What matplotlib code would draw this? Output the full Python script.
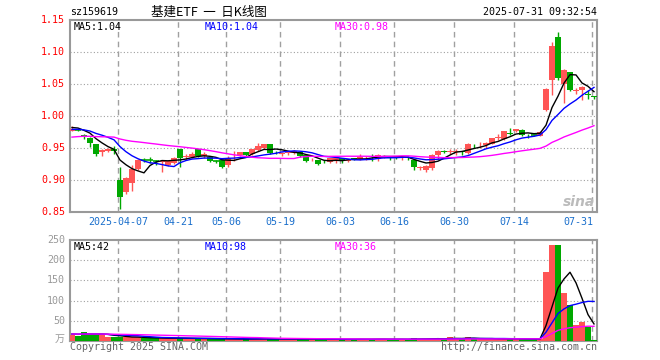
import matplotlib
matplotlib.use("Agg")
import matplotlib.pyplot as plt
import numpy as np

# ---- data (159619) ----
dates = [
    "03-25", "03-26", "03-27", "03-28", "03-31",
    "04-01", "04-02", "04-03", "04-07", "04-08", "04-09", "04-10", "04-11",
    "04-14", "04-15", "04-16", "04-17", "04-18", "04-21", "04-22", "04-23",
    "04-24", "04-25", "04-28", "04-29", "04-30",
    "05-06", "05-07", "05-08", "05-09", "05-12", "05-13", "05-14", "05-15",
    "05-16", "05-19", "05-20", "05-21", "05-22", "05-23", "05-26", "05-27",
    "05-28", "05-29", "05-30",
    "06-03", "06-04", "06-05", "06-06", "06-09", "06-10", "06-11", "06-12",
    "06-13", "06-16", "06-17", "06-18", "06-19", "06-20", "06-23", "06-24",
    "06-25", "06-26", "06-27", "06-30",
    "07-01", "07-02", "07-03", "07-04", "07-07", "07-08", "07-09", "07-10",
    "07-11", "07-14", "07-15", "07-16", "07-17", "07-18", "07-21", "07-22",
    "07-23", "07-24", "07-25", "07-28", "07-29", "07-30", "07-31",
]

opens = [
    0.977, 0.978, 0.971, 0.966, 0.956,
    0.943, 0.946, 0.948, 0.900, 0.882, 0.896, 0.917, 0.931,
    0.931, 0.930, 0.928, 0.924, 0.927, 0.948, 0.936, 0.936,
    0.948, 0.937, 0.936, 0.929, 0.932,
    0.923, 0.937, 0.939, 0.943, 0.940, 0.947, 0.950, 0.956,
    0.944, 0.940, 0.942, 0.942, 0.943, 0.939, 0.931, 0.931,
    0.930, 0.928, 0.929,
    0.934, 0.929, 0.934, 0.933, 0.934, 0.937, 0.933, 0.935,
    0.936, 0.936, 0.934, 0.936, 0.931, 0.918, 0.915, 0.918,
    0.939, 0.946, 0.944, 0.944,
    0.945, 0.942, 0.957, 0.954, 0.954, 0.957, 0.966, 0.964,
    0.973, 0.976, 0.978, 0.971, 0.970, 0.969, 1.009, 1.056,
    1.124, 1.050, 1.068, 1.039, 1.040, 1.034, 1.031,
]
closes = [
    0.980, 0.978, 0.967, 0.958, 0.940,
    0.947, 0.949, 0.946, 0.874, 0.903, 0.917, 0.931, 0.931,
    0.931, 0.930, 0.929, 0.929, 0.935, 0.934, 0.937, 0.940,
    0.938, 0.940, 0.930, 0.929, 0.921,
    0.935, 0.938, 0.943, 0.939, 0.948, 0.953, 0.956, 0.942,
    0.943, 0.942, 0.943, 0.946, 0.938, 0.930, 0.932, 0.925,
    0.929, 0.934, 0.934,
    0.929, 0.932, 0.933, 0.936, 0.935, 0.936, 0.939, 0.938,
    0.935, 0.935, 0.935, 0.935, 0.921, 0.920, 0.922, 0.939,
    0.945, 0.944, 0.945, 0.945,
    0.944, 0.956, 0.956, 0.955, 0.958, 0.965, 0.967, 0.976,
    0.972, 0.979, 0.971, 0.970, 0.970, 0.975, 1.042, 1.109,
    1.059, 1.072, 1.041, 1.040, 1.046, 1.033, 1.030,
]
highs = [
    0.984, 0.980, 0.972, 0.967, 0.957,
    0.949, 0.950, 0.953, 0.921, 0.905, 0.924, 0.933, 0.934,
    0.936, 0.932, 0.931, 0.931, 0.936, 0.949, 0.940, 0.943,
    0.949, 0.943, 0.937, 0.932, 0.933,
    0.937, 0.946, 0.944, 0.944, 0.949, 0.958, 0.957, 0.957,
    0.946, 0.944, 0.946, 0.947, 0.944, 0.940, 0.934, 0.932,
    0.931, 0.935, 0.935,
    0.935, 0.933, 0.935, 0.941, 0.937, 0.940, 0.941, 0.939,
    0.937, 0.937, 0.936, 0.937, 0.933, 0.922, 0.923, 0.940,
    0.947, 0.947, 0.949, 0.948,
    0.946, 0.958, 0.957, 0.960, 0.960, 0.966, 0.972, 0.977,
    0.982, 0.980, 0.979, 0.972, 0.971, 0.976, 1.043, 1.115,
    1.132, 1.073, 1.069, 1.043, 1.047, 1.041, 1.031,
]
lows = [
    0.976, 0.976, 0.964, 0.952, 0.937,
    0.937, 0.944, 0.940, 0.855, 0.878, 0.883, 0.916, 0.928,
    0.926, 0.924, 0.913, 0.922, 0.925, 0.921, 0.932, 0.934,
    0.936, 0.934, 0.928, 0.926, 0.919,
    0.921, 0.930, 0.937, 0.937, 0.939, 0.946, 0.949, 0.941,
    0.940, 0.938, 0.939, 0.941, 0.936, 0.928, 0.929, 0.923,
    0.926, 0.926, 0.927,
    0.927, 0.928, 0.931, 0.932, 0.932, 0.930, 0.929, 0.934,
    0.931, 0.933, 0.932, 0.932, 0.916, 0.916, 0.913, 0.916,
    0.933, 0.942, 0.940, 0.939,
    0.939, 0.941, 0.950, 0.950, 0.950, 0.956, 0.963, 0.963,
    0.970, 0.975, 0.968, 0.966, 0.968, 0.968, 1.008, 1.033,
    1.057, 1.021, 1.039, 1.034, 1.025, 1.026, 1.027,
]
volumes = [  # 万手
    15, 13, 22, 17, 17,
    16, 10, 11, 11, 9, 9, 9, 7,
    7, 7, 7, 7, 7, 7, 6, 6,
    6, 6, 6, 5, 5,
    5, 5, 5, 5, 5, 6, 6, 5,
    5, 5, 5, 5, 5, 5, 5, 4,
    4, 4, 4,
    4, 4, 4, 5, 4, 4, 5, 4,
    4, 4, 4, 4, 7, 5, 5, 6,
    6, 5, 9, 6,
    5, 9, 6, 5, 5, 5, 6, 5,
    6, 5, 5, 5, 5, 5, 171, 237,
    237, 118, 88, 40, 46, 35, 2,
]

# sessions before the window, only used to seed the moving averages
pre_closes = [
    0.955, 0.952, 0.958, 0.954, 0.956, 0.953, 0.957,
    0.962, 0.965, 0.963, 0.960, 0.964, 0.966, 0.962, 0.965, 0.963, 0.964, 0.961,
    0.970, 0.971,
    0.975, 0.977, 0.976, 0.977, 0.975,
    0.982, 0.985, 0.980, 0.983,
]
pre_volumes = [
    18, 17, 19, 16, 18, 17, 18, 17, 16, 18,
    17, 18, 17, 19, 16, 18, 17, 17, 18, 16,
    17, 18, 17, 16, 18, 17, 19, 17, 18,
]

price_ticks = [1.15, 1.10, 1.05, 1.00, 0.95, 0.90, 0.85]
vol_ticks = [250, 200, 150, 100, 50]
xlabel_dates = ["04-07", "04-21", "05-06", "05-19", "06-03", "06-16",
                "06-30", "07-14", "07-31"]

RED = "#ff5555"
GREEN = "#00a800"
GRID = "#a0a0a0"
W, H = 660, 360
FS = 7.2


def moving_avg(hist, vals, n):
    full = np.array(list(hist) + list(vals), dtype=float)
    k = len(hist)
    return np.array([full[k + i - n + 1:k + i + 1].mean() for i in range(len(vals))])


def fx(px):
    return px / W


def fy(py):
    return 1 - py / H


plt.rcParams["font.family"] = ["DejaVu Sans Mono"]
fig = plt.figure(figsize=(6.6, 3.6), dpi=100)
fig.patch.set_facecolor("white")

ax = fig.add_axes([fx(70), fy(212), fx(597) - fx(70), fy(20) - fy(212)])
axv = fig.add_axes([fx(70), fy(341), fx(597) - fx(70), fy(240) - fy(341)])

n = len(closes)
x = np.arange(n)

# candle colours (flat candles use previous close)
up = []
prev = pre_closes[-1]
for o, c in zip(opens, closes):
    up.append(c > o or (c == o and c > prev))
    prev = c
cols = [RED if u else GREEN for u in up]

for i in range(n):
    o, c, h, l = opens[i], closes[i], highs[i], lows[i]
    ax.vlines(i, l, h, color=cols[i], lw=1.0, zorder=3)
    if abs(c - o) < 1e-9:
        ax.hlines(c, i - 0.42, i + 0.42, color=cols[i], lw=1.2, zorder=3)
    else:
        ax.bar(i, abs(c - o), bottom=min(o, c), width=0.84, color=cols[i],
               linewidth=0, zorder=3)

ma5 = moving_avg(pre_closes, closes, 5)
ma10 = moving_avg(pre_closes, closes, 10)
ma30 = moving_avg(pre_closes, closes, 30)
ax.plot(x, ma5, color="black", lw=1.0, zorder=4)
ax.plot(x, ma10, color="#0000ff", lw=1.0, zorder=4)
ax.plot(x, ma30, color="#ff00ff", lw=1.0, zorder=4)

axv.bar(x, volumes, width=0.84, color=cols, linewidth=0, zorder=3)
vma5 = moving_avg(pre_volumes, volumes, 5)
vma10 = moving_avg(pre_volumes, volumes, 10)
vma30 = moving_avg(pre_volumes, volumes, 30)
axv.plot(x, vma5, color="black", lw=1.0, zorder=4)
axv.plot(x, vma10, color="#0000ff", lw=1.0, zorder=4)
axv.plot(x, vma30, color="#ff00ff", lw=1.0, zorder=4)

xpos = [dates.index(d) - 0.3 for d in xlabel_dates]
for a in (ax, axv):
    a.set_xlim(-0.33, 87.5)
    for xp in xpos:
        a.axvline(xp, color=GRID, lw=1.0, ls=(0, (4, 3)), zorder=1)
    a.set_xticks([])
    a.set_yticks([])
    for s in a.spines.values():
        s.set_color("#999999")
        s.set_linewidth(1.5)

ax.set_ylim(0.85, 1.15)
for p in price_ticks[1:-1]:
    ax.axhline(p, color=GRID, lw=0.8, ls=(0, (1, 2)), zorder=1)
axv.set_ylim(0, 250)
for v in vol_ticks[1:]:
    axv.axhline(v, color=GRID, lw=0.8, ls=(0, (1, 2)), zorder=1)

# axis labels as text, placed like the original
for p in price_ticks:
    py = 20 + (1.15 - p) / 0.30 * 192
    fig.text(fx(65), fy(py), f"{p:.2f}", color="#ff0000", fontsize=FS,
             ha="right", va="center")
for v in vol_ticks:
    py = 341 - v / 250 * 101
    fig.text(fx(65), fy(py), str(v), color="#999999", fontsize=FS,
             ha="right", va="center")
fig.text(fx(65), fy(339), "万", color="#999999", fontsize=FS, ha="right",
         va="center", family=["Noto Sans CJK SC", "DejaVu Sans"])

for d, xp in zip(xlabel_dates, xpos):
    px = 72 + (xp + 0.3) * 6 - 2
    label = "2025-" + d if d == "04-07" else d
    if d == xlabel_dates[-1]:
        # last label is pulled inside the frame
        fig.text(fx(px + 1), fy(222), label, color="#1a6fcc", fontsize=FS,
                 ha="right", va="center")
    else:
        fig.text(fx(px), fy(222), label, color="#1a6fcc", fontsize=FS,
                 ha="center", va="center")

# header
fig.text(fx(70), fy(12), "sz159619", fontsize=FS, ha="left", va="center")
fig.text(fx(209), fy(12), "基建ETF  一  日K线图", fontsize=9, ha="center",
         va="center", family=["Noto Sans CJK SC", "DejaVu Sans"])
fig.text(fx(597), fy(12), "2025-07-31 09:32:54", fontsize=FS, ha="right",
         va="center")

fig.text(fx(74), fy(27), f"MA5:{ma5[-1]:.2f}", fontsize=FS, color="black",
         va="center")
fig.text(fx(205), fy(27), f"MA10:{ma10[-1]:.2f}", fontsize=FS, color="#0000ff",
         va="center")
fig.text(fx(335), fy(27), f"MA30:{ma30[-1]:.2f}", fontsize=FS, color="#ff00ff",
         va="center")
fig.text(fx(74), fy(247), f"MA5:{vma5[-1]:.0f}", fontsize=FS, color="black",
         va="center")
fig.text(fx(205), fy(247), f"MA10:{vma10[-1]:.0f}", fontsize=FS, color="#0000ff",
         va="center")
fig.text(fx(335), fy(247), f"MA30:{vma30[-1]:.0f}", fontsize=FS, color="#ff00ff",
         va="center")

fig.text(fx(70), fy(347), "Copyright 2025 SINA.COM", fontsize=FS,
         color="#666666", ha="left", va="center")
fig.text(fx(597), fy(347), "http://finance.sina.com.cn", fontsize=FS,
         color="#666666", ha="right", va="center")

# faint watermark
fig.text(fx(579), fy(202), "sina", fontsize=10, color="#bbbbbb", ha="center",
         va="center", style="italic", weight="bold", family="DejaVu Sans")

fig.savefig("out.png", dpi=100)
